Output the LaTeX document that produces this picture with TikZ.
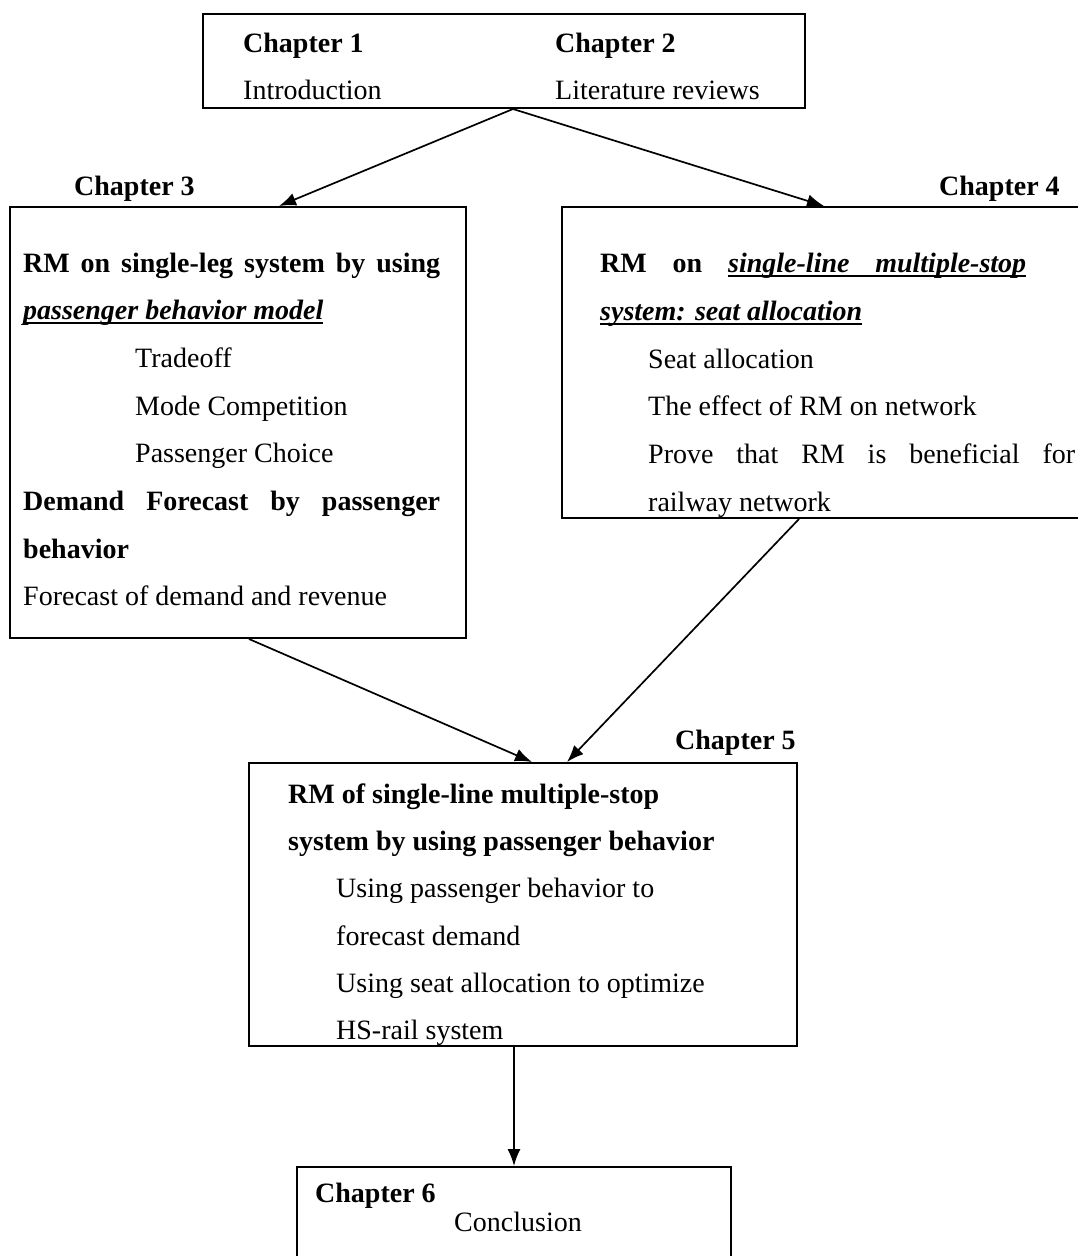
\documentclass[tikz,border=0pt]{standalone}
\usepackage{fontspec}
\setmainfont{Liberation Serif}
\usetikzlibrary{arrows.meta}
\newcommand\ulbox[1]{\setbox0\hbox{#1}\rlap{\rule[-4.5pt]{\wd0}{1.6pt}}\box0}
\tikzset{
  box/.style={draw, line width=2pt, inner sep=0pt, rectangle},
  txt/.style={anchor=base west, inner sep=0pt, font=\fontsize{28}{34}\selectfont},
  arr/.style={-{Latex[length=17pt,width=13pt]}, line width=1.7pt}
}
\begin{document}
\begin{tikzpicture}[x=1pt,y=-1pt]
\useasboundingbox (0,0) rectangle (1078,1256);
\clip (0,0) rectangle (1078,1256);
% boxes
\node[box, minimum width=602pt, minimum height=94pt] (top) at (504,61) {};
\node[box, minimum width=456pt, minimum height=431pt] (c3) at (238,422.5) {};
\node[box, minimum width=530pt, minimum height=311pt] (c4) at (827,362.5) {};
\node[box, minimum width=548pt, minimum height=283pt] (c5) at (523,904.5) {};
\node[box, minimum width=434pt, minimum height=110pt] (c6) at (514,1222) {};
% top box texts
\node[txt] (t1) at (243,52) {\textbf{Chapter 1}};
\node[txt] (t2) at (243,99) {Introduction};
\node[txt] (t3) at (555,52) {\textbf{Chapter 2}};
\node[txt] (t4) at (555,99) {Literature reviews};
% chapter 3
\node[txt] (l3) at (74,195) {\textbf{Chapter 3}};
\node[txt] (a1) at (23,272) {\makebox[417pt][s]{\textbf{RM on single-leg system by using}}};
\node[txt] (a2) at (23,319) {\ulbox{\textbf{\textit{passenger behavior model}}}};
\node[txt] (a3) at (135,367) {Tradeoff};
\node[txt] (a4) at (135,415) {Mode Competition};
\node[txt] (a5) at (135,462) {Passenger Choice};
\node[txt] (a6) at (23,510) {\makebox[417pt][s]{\textbf{Demand Forecast by passenger}}};
\node[txt] (a7) at (23,558) {\textbf{behavior}};
\node[txt] (a8) at (23,605) {Forecast of demand and revenue};
% chapter 4
\node[txt] (l4) at (939,195) {\textbf{Chapter 4}};
\node[txt] (b1) at (600,272) {\makebox[426pt][s]{\textbf{RM}\hfill\textbf{on}\hfill\ulbox{\makebox[298pt][s]{\textbf{\textit{single-line}}\hfill\textbf{\textit{multiple-stop}}}}}};
\node[txt] (b2) at (600,320) {\ulbox{\textbf{\textit{system: seat allocation}}}};
\node[txt] (b3) at (648,368) {Seat allocation};
\node[txt] (b4) at (648,415) {The effect of RM on network};
\node[txt] (b5) at (648,463) {\makebox[427pt][s]{Prove that RM is beneficial for}};
\node[txt] (b6) at (648,511) {railway network};
% chapter 5
\node[txt] (l5) at (675,749) {\textbf{Chapter 5}};
\node[txt] (d1) at (288,803) {\textbf{RM of single-line multiple-stop}};
\node[txt] (d2) at (288,850) {\textbf{system by using passenger behavior}};
\node[txt] (d3) at (336,897) {Using passenger behavior to};
\node[txt] (d4) at (336,945) {forecast demand};
\node[txt] (d5) at (336,992) {Using seat allocation to optimize};
\node[txt] (d6) at (336,1039) {HS-rail system};
% chapter 6
\node[txt] (l6) at (315,1202) {\textbf{Chapter 6}};
\node[txt, anchor=base] (e1) at (518,1231) {Conclusion};
% arrows
\draw[arr] ([xshift=9pt]top.south) -- ([xshift=270pt]c3.north west);
\draw[arr] ([xshift=9pt]top.south) -- ([xshift=263pt]c4.north west);
\draw[arr] ([xshift=240pt]c3.south west) -- ([xshift=284pt]c5.north west);
\draw[arr] ([xshift=238pt]c4.south west) -- ([xshift=319pt]c5.north west);
\draw[arr] ([xshift=-9pt]c5.south) -- (c6.north);
\end{tikzpicture}
\end{document}
